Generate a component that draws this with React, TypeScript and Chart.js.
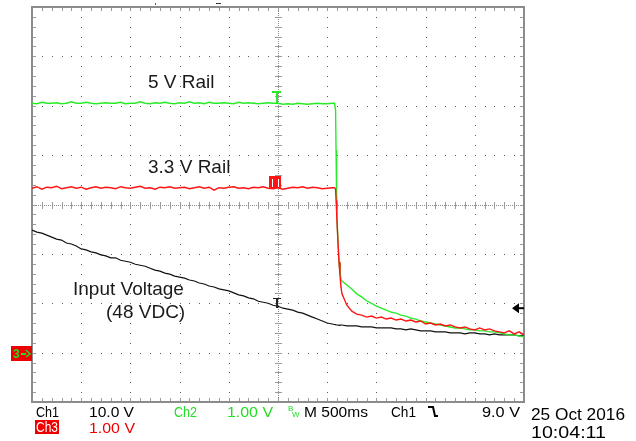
import { useEffect, useRef } from "react";
import { Chart, registerables } from "chart.js";

Chart.register(...registerables);

// Time relative to trigger (ms), 500 ms/div, 10 divisions
const timeMs = [
  -2500, -2450, -2400, -2350, -2300, -2250, -2200, -2150, -2100, -2050,
  -2000, -1950, -1900, -1850, -1800, -1750, -1700, -1650, -1600, -1550,
  -1500, -1450, -1400, -1350, -1300, -1250, -1200, -1150, -1100, -1050,
  -1000, -950, -900, -850, -800, -750, -700, -650, -600, -550,
  -500, -450, -400, -350, -300, -250, -200, -150, -100, -50,
  0, 50, 100, 150, 200, 250, 300, 350, 400, 450,
  500, 550,
  575, 585, 590, 595, 600, 610, 620, 630, 640, 650,
  700, 750, 800, 850, 900, 950, 1000, 1050, 1100, 1150,
  1200, 1250, 1300, 1350, 1400, 1450, 1500, 1550, 1600, 1650,
  1700, 1750, 1800, 1850, 1900, 1950, 2000, 2050, 2100, 2150,
  2200, 2250, 2300, 2350, 2400, 2450, 2500,
];

// Ch2 (green) 5 V rail, volts (1.00 V/div)
const ch2Volts = [
  5.05, 5.04, 5.07, 5.05, 5.05, 5.06, 5.04, 5.05, 5.08, 5.05,
  5.05, 5.07, 5.05, 5.04, 5.05, 5.06, 5.05, 5.05, 5.07, 5.04,
  5.05, 5.05, 5.08, 5.05, 5.04, 5.06, 5.05, 5.07, 5.05, 5.04,
  5.06, 5.05, 5.08, 5.05, 5.06, 5.04, 5.07, 5.05, 5.05, 5.06,
  5.05, 5.04, 5.07, 5.05, 5.06, 5.05, 5.04, 5.05, 5.06, 5.05,
  5.05, 5.03, 5.04, 5.03, 5.05, 5.04, 5.03, 5.04, 5.05, 5.04,
  5.04, 5.05,
  5.05, 4.91, 4.10, 3.29, 2.68, 2.22, 1.83, 1.63, 1.47, 1.45,
  1.37, 1.29, 1.19, 1.13, 1.05, 1.0, 0.94, 0.9, 0.86, 0.82,
  0.8, 0.76, 0.74, 0.7, 0.68, 0.64, 0.62, 0.6, 0.58, 0.56,
  0.54, 0.52, 0.5, 0.5, 0.48, 0.46, 0.46, 0.44, 0.44, 0.42,
  0.42, 0.4, 0.38, 0.36, 0.36, 0.34, 0.32,
];

// Ch3 (red) 3.3 V rail, volts (1.00 V/div)
const ch3Volts = [
  3.33, 3.36, 3.31, 3.35, 3.34, 3.37, 3.32, 3.34, 3.36, 3.33,
  3.35, 3.31, 3.34, 3.36, 3.33, 3.35, 3.34, 3.32, 3.36, 3.34,
  3.33, 3.35, 3.37, 3.33, 3.34, 3.31, 3.35, 3.34, 3.36, 3.33,
  3.34, 3.35, 3.32, 3.34, 3.36, 3.33, 3.35, 3.29, 3.34, 3.33,
  3.35, 3.36, 3.33, 3.34, 3.32, 3.35, 3.34, 3.36, 3.33, 3.32,
  3.34, 3.31, 3.33, 3.35, 3.34, 3.36, 3.33, 3.35, 3.34, 3.32,
  3.33, 3.34,
  3.34, 3.31, 3.09, 2.89, 2.64, 2.22, 1.83, 1.57, 1.33, 1.19,
  0.96, 0.84, 0.78, 0.76, 0.72, 0.74, 0.7, 0.72, 0.68, 0.7,
  0.66, 0.68, 0.64, 0.66, 0.62, 0.64, 0.58, 0.6, 0.56, 0.58,
  0.54, 0.56, 0.52, 0.5, 0.52, 0.48, 0.46, 0.5, 0.46, 0.48,
  0.44, 0.42, 0.4, 0.44, 0.38, 0.42, 0.36,
];

// Ch1 (black) input voltage, volts (10.0 V/div)
const ch1Volts = [
  24.8, 24.4, 24.2, 23.8, 23.4, 23.0, 22.8, 22.2, 22.0, 21.6,
  21.0, 20.8, 20.4, 20.2, 19.8, 19.6, 19.2, 19.2, 18.7, 18.5,
  18.3, 17.9, 17.7, 17.5, 17.1, 16.7, 16.5, 16.1, 15.9, 15.5,
  15.3, 15.1, 14.7, 14.5, 14.1, 13.9, 13.5, 13.3, 12.9, 12.7,
  12.5, 12.1, 11.7, 11.5, 11.1, 10.9, 10.4, 10.2, 10.0, 9.6,
  9.4, 9.0, 8.8, 8.6, 8.2, 8.0, 7.6, 7.2, 6.8, 6.4,
  6.0, 5.8,
  5.7, 5.7, 5.6, 5.6, 5.6, 5.6, 5.5, 5.6, 5.6, 5.6,
  5.4, 5.4, 5.4, 5.2, 5.2, 5.2, 5.0, 5.0, 5.0, 5.0,
  4.8, 4.8, 4.6, 4.8, 4.6, 4.4, 4.4, 4.4, 4.2, 4.2,
  4.2, 4.0, 4.0, 4.0, 3.8, 4.0, 4.0, 3.8, 3.8, 3.6,
  3.8, 3.6, 3.6, 3.6, 3.6, 3.4, 3.6,
];

const ch1VoltsPerDiv = 10;
const ch1TriggerLevel = 9.0;
const timePerDiv = 500;
const xMin = -2500;
const xMax = 2500;
const yMin = -1;
const yMax = 7;

const GREEN = "rgb(40,235,40)";
const RED = "rgb(255,20,20)";
const BLACK = "#111111";
const FONT = "'Liberation Sans', Arial, sans-serif";

function fitText(ctx: CanvasRenderingContext2D, text: string, x: number, y: number, width: number) {
  const w = ctx.measureText(text).width;
  ctx.save();
  ctx.translate(x, y);
  ctx.scale(width / w, 1);
  ctx.fillText(text, 0, 0);
  ctx.restore();
}

const scopePlugin = {
  id: "scope",
  beforeDatasetsDraw(chart: any) {
    const { ctx, chartArea: ca } = chart;
    const xs = chart.scales.x;
    const ys = chart.scales.y;
    ctx.save();
    // dotted graticule
    ctx.fillStyle = "#5a5a5a";
    for (let k = 0; k <= 10; k++) {
      const px = Math.round(xs.getPixelForValue(xMin + timePerDiv * k));
      for (let m = 0; m <= 40; m++) {
        const py = Math.round(ys.getPixelForValue(yMin + m * 0.2));
        ctx.fillRect(px, py, 1, 1);
      }
    }
    for (let j = 0; j <= 8; j++) {
      const py = Math.round(ys.getPixelForValue(yMin + j));
      for (let m = 0; m <= 50; m++) {
        const px = Math.round(xs.getPixelForValue(xMin + m * (timePerDiv / 5)));
        ctx.fillRect(px, py, 1, 1);
      }
    }
    // centre cross lines
    const cx = Math.round(xs.getPixelForValue(0));
    const cy = Math.round(ys.getPixelForValue((yMin + yMax) / 2));
    ctx.fillStyle = "#8a8a8a";
    for (let x = Math.round(ca.left); x <= ca.right; x += 2) ctx.fillRect(x, cy, 1, 1);
    for (let y = Math.round(ca.top); y <= ca.bottom; y += 2) ctx.fillRect(cx, y, 1, 1);
    ctx.fillStyle = "#9a9a9a";
    for (let m = 0; m <= 50; m++) {
      const px = Math.round(xs.getPixelForValue(xMin + m * (timePerDiv / 5)));
      ctx.fillRect(px, cy - 3, 1, 7);
      ctx.fillRect(px, Math.round(ca.top), 1, 4);
      ctx.fillRect(px, Math.round(ca.bottom) - 4, 1, 4);
    }
    for (let m = 0; m <= 40; m++) {
      const py = Math.round(ys.getPixelForValue(yMin + m * 0.2));
      ctx.fillRect(cx - 3, py, 7, 1);
      ctx.fillRect(Math.round(ca.left), py, 4, 1);
      ctx.fillRect(Math.round(ca.right) - 4, py, 4, 1);
    }
    // border
    ctx.strokeStyle = "#8c8c8c";
    ctx.lineWidth = 2;
    ctx.strokeRect(ca.left, ca.top, ca.right - ca.left, ca.bottom - ca.top);
    ctx.restore();
  },
  afterDraw(chart: any) {
    const { ctx, chartArea: ca } = chart;
    const xs = chart.scales.x;
    const ys = chart.scales.y;
    const i0 = timeMs.indexOf(0);
    const tx = Math.round(xs.getPixelForValue(0)) - 2;
    ctx.save();

    // trigger-point markers on traces
    const gy = Math.round(ys.getPixelForValue(ch2Volts[i0]));
    ctx.fillStyle = GREEN;
    ctx.fillRect(tx - 4, gy - 12, 9, 2);
    ctx.fillRect(tx, gy - 12, 2, 12);

    const ry = Math.round(ys.getPixelForValue(ch3Volts[i0]));
    ctx.fillStyle = RED;
    ctx.fillRect(tx - 7, ry - 12, 12, 12);
    ctx.fillStyle = "#fff";
    ctx.fillRect(tx - 4, ry - 9, 1, 8);
    ctx.fillRect(tx + 2, ry - 9, 1, 8);

    const by = Math.round(ys.getPixelForValue(ch1Volts[i0] / ch1VoltsPerDiv));
    ctx.fillStyle = "#222";
    ctx.fillRect(tx - 3, by - 8, 8, 1);
    ctx.fillRect(tx, by - 8, 2, 10);

    // top position markers
    ctx.fillStyle = RED;
    ctx.fillRect(Math.round(xs.getPixelForValue(-1250)), 3, 1, 2);
    ctx.fillStyle = "#333";
    ctx.fillRect(Math.round(xs.getPixelForValue(-610)) - 2, 3, 5, 1);

    // trigger level arrow (right)
    const ty = ys.getPixelForValue(ch1TriggerLevel / ch1VoltsPerDiv);
    ctx.fillStyle = "#000";
    ctx.beginPath();
    ctx.moveTo(ca.right - 12, ty);
    ctx.lineTo(ca.right - 5, ty - 5);
    ctx.lineTo(ca.right - 5, ty + 5);
    ctx.closePath();
    ctx.fill();
    ctx.fillRect(ca.right - 6, ty - 1, 6, 2);

    // ground marker (left)
    const g0 = Math.round(ys.getPixelForValue(0));
    ctx.fillStyle = "#ee0000";
    ctx.fillRect(11, g0 - 7, 21, 15);
    ctx.fillStyle = "#22dd22";
    ctx.font = `bold 12px ${FONT}`;
    ctx.textBaseline = "alphabetic";
    ctx.textAlign = "left";
    ctx.fillText("3", 13, g0 + 5);
    ctx.fillRect(21, g0, 5, 2);
    ctx.beginPath();
    ctx.moveTo(26, g0 - 3);
    ctx.lineTo(30, g0 + 1);
    ctx.lineTo(26, g0 + 4);
    ctx.lineWidth = 1.5;
    ctx.strokeStyle = "#22dd22";
    ctx.stroke();

    // trace annotations
    ctx.fillStyle = "#1a1a1a";
    ctx.font = `19px ${FONT}`;
    ctx.fillText("5 V Rail", 148, 88);
    ctx.fillText("3.3 V Rail", 148, 173);
    ctx.fillText("Input Voltage", 73, 295);
    ctx.fillText("(48 VDC)", 106, 318);

    // status bar
    ctx.font = `15px ${FONT}`;
    ctx.fillStyle = "#000";
    fitText(ctx, "Ch1", 36, 417, 23);
    fitText(ctx, "10.0 V", 89, 417, 45);
    ctx.fillStyle = "#22dd22";
    fitText(ctx, "Ch2", 174, 417, 23);
    fitText(ctx, "1.00 V", 227, 417, 46);
    ctx.font = `8px ${FONT}`;
    ctx.fillText("B", 288, 411);
    ctx.fillText("W", 292, 417);
    ctx.font = `15px ${FONT}`;
    ctx.fillStyle = "#000";
    fitText(ctx, "M 500ms", 304, 417, 64);
    fitText(ctx, "Ch1", 391, 417, 25);
    ctx.strokeStyle = "#000";
    ctx.lineWidth = 2;
    ctx.beginPath();
    ctx.moveTo(428, 407);
    ctx.lineTo(433, 407);
    ctx.lineTo(435, 416);
    ctx.lineTo(438, 416);
    ctx.stroke();
    fitText(ctx, "9.0 V", 482, 417, 38);
    ctx.font = `16px ${FONT}`;
    fitText(ctx, "25 Oct 2016", 531, 420, 94);
    fitText(ctx, "10:04:11", 531, 438, 75);
    ctx.font = `15px ${FONT}`;
    ctx.fillStyle = "#ee0000";
    ctx.fillRect(35, 420, 24, 14);
    ctx.fillStyle = "#fff";
    fitText(ctx, "Ch3", 36, 432, 22);
    ctx.fillStyle = "#ee0000";
    fitText(ctx, "1.00 V", 89, 433, 46);
    ctx.restore();
  },
};

export default function App() {
  const ref = useRef<HTMLCanvasElement | null>(null);
  useEffect(() => {
    document.body.style.margin = "0";
    const canvas = ref.current;
    if (!canvas) return;
    const mk = (vals: number[], scale: number) =>
      timeMs.map((t, i) => ({ x: t, y: vals[i] / scale }));
    const chart = new Chart(canvas, {
      type: "line",
      data: {
        datasets: [
          { label: "Ch3", data: mk(ch3Volts, 1), borderColor: RED, borderWidth: 1.4, pointRadius: 0, tension: 0 },
          { label: "Ch2", data: mk(ch2Volts, 1), borderColor: GREEN, borderWidth: 1.4, pointRadius: 0, tension: 0 },
          { label: "Ch1", data: mk(ch1Volts, ch1VoltsPerDiv), borderColor: BLACK, borderWidth: 1.2, pointRadius: 0, tension: 0 },
        ],
      },
      options: {
        animation: false,
        responsive: false,
        devicePixelRatio: 1,
        layout: { padding: { left: 32, right: 112, top: 7, bottom: 39 } },
        plugins: { legend: { display: false }, tooltip: { enabled: false } },
        scales: {
          x: { type: "linear", min: xMin, max: xMax, display: false },
          y: { type: "linear", min: yMin, max: yMax, display: false },
        },
      },
      plugins: [scopePlugin],
    });
    return () => chart.destroy();
  }, []);
  return (
    <div style={{ width: 636, height: 441, background: "#fff" }}>
      <canvas ref={ref} width={636} height={441} style={{ display: "block" }} />
    </div>
  );
}
